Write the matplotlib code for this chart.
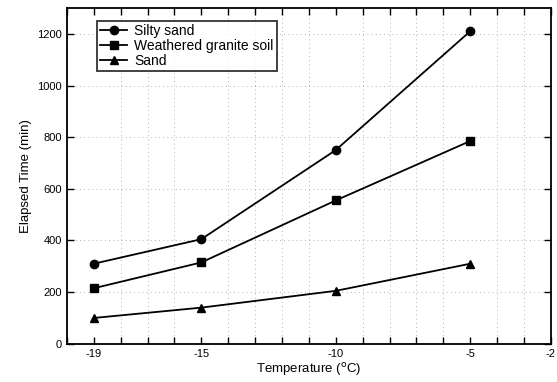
import matplotlib
matplotlib.use("Agg")
import matplotlib.pyplot as plt
from matplotlib.ticker import MultipleLocator

plt.rcParams["font.family"] = ["Liberation Sans", "DejaVu Sans"]
plt.rcParams["axes.unicode_minus"] = False

temperature = [-19, -15, -10, -5]
silty_sand = [310, 405, 750, 1210]
granite_soil = [215, 315, 555, 785]
sand = [100, 140, 205, 310]

x_ticks = [-19, -15, -10, -5, -2]
y_ticks = [0, 200, 400, 600, 800, 1000, 1200]

fig = plt.figure(figsize=(5.57, 3.82), dpi=100)
ax = fig.add_axes([0.12, 0.1, 0.869, 0.879])

ax.plot(temperature, silty_sand, color="black", marker="o", markersize=6,
        linewidth=1.3, label="Silty sand")
ax.plot(temperature, granite_soil, color="black", marker="s", markersize=6,
        linewidth=1.3, label="Weathered granite soil")
ax.plot(temperature, sand, color="black", marker="^", markersize=6,
        linewidth=1.3, label="Sand")

ax.set_xlim(-20, -2)
ax.set_ylim(0, 1300)
ax.set_xticks(x_ticks)
ax.set_yticks(y_ticks)
ax.xaxis.set_minor_locator(MultipleLocator(1))

# faint dotted grid like the scanned original
ax.grid(which="minor", axis="x", color="#999999", linestyle=(0, (1, 4)), linewidth=0.6)
ax.grid(which="major", axis="y", color="#999999", linestyle=(0, (1, 4)), linewidth=0.6)

ax.tick_params(which="both", direction="in", top=True, right=True,
               length=5, width=1, labelsize=8)
for s in ax.spines.values():
    s.set_linewidth(1.3)

ax.set_xlabel("Temperature ($^{\\rm o}$C)", fontsize=9.5, labelpad=2)
ax.set_ylabel("Elapsed Time (min)", fontsize=9.5)

leg = ax.legend(loc="upper left", bbox_to_anchor=(0.062, 0.962), fontsize=10,
                frameon=True, fancybox=False, edgecolor="black",
                borderpad=0.2, labelspacing=0.1, handlelength=2.0,
                handletextpad=0.5, borderaxespad=0)
leg.get_frame().set_linewidth(1.3)

plt.savefig("out.png", dpi=100)
